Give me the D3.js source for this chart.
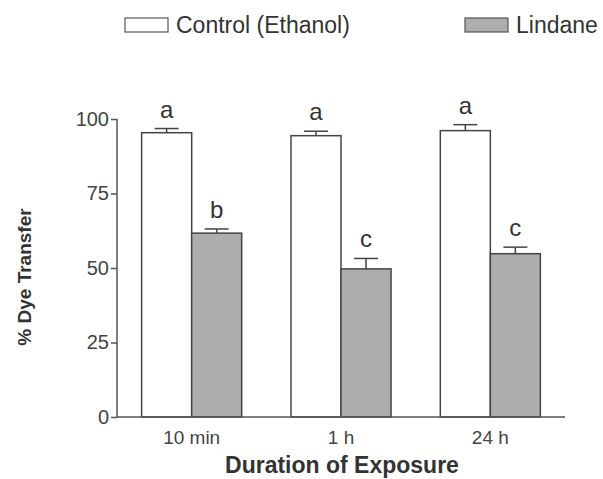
<!DOCTYPE html>
<html>
<head>
<meta charset="utf-8">
<script src="https://cdn.jsdelivr.net/npm/d3@7"></script>
<style>
  body { margin: 0; background: #fff; }
  text { font-family: "Liberation Sans", Arial, sans-serif; fill: #333; }
</style>
</head>
<body>
<svg width="603" height="479"></svg>
<script>
// chart values
var durations = ["10 min", "1 h", "24 h"];
var seriesNames = ["Control (Ethanol)", "Lindane"];
var controlMeans = [95.4, 94.4, 96.1];
var controlErr = [1.4, 1.5, 2.0];
var lindaneMeans = [61.7, 49.7, 54.8];
var lindaneErr = [1.4, 3.5, 2.2];
var controlLetters = ["a", "a", "a"];
var lindaneLetters = ["b", "c", "c"];
var yTicks = [0, 25, 50, 75, 100];

var svg = d3.select("svg");
var plotLeft = 117, plotRight = 565, plotTop = 119, plotBottom = 417;

var x = d3.scaleBand().domain(durations).range([plotLeft, plotRight])
    .paddingInner(0.33).paddingOuter(0.165);
var sub = d3.scaleBand().domain(seriesNames).range([0, x.bandwidth()]);
var y = d3.scaleLinear().domain([0, 100]).range([plotBottom, plotTop]);

var fills = { "Control (Ethanol)": "#fff", "Lindane": "#adadad" };

// build rows for each bar
var rows = [];
durations.forEach(function(d, i) {
    rows.push({ dur: d, series: seriesNames[0], v: controlMeans[i], e: controlErr[i], letter: controlLetters[i] });
    rows.push({ dur: d, series: seriesNames[1], v: lindaneMeans[i], e: lindaneErr[i], letter: lindaneLetters[i] });
});

// error bars (drawn first, bar covers lower half)
var eb = svg.append("g").attr("stroke", "#444").attr("stroke-width", 1.5);
rows.forEach(function(r) {
    var cx = x(r.dur) + sub(r.series) + sub.bandwidth() / 2;
    eb.append("line").attr("x1", cx).attr("x2", cx).attr("y1", y(r.v)).attr("y2", y(r.v + r.e));
    eb.append("line").attr("x1", cx - 12).attr("x2", cx + 12).attr("y1", y(r.v + r.e)).attr("y2", y(r.v + r.e));
});

svg.append("g").selectAll("rect").data(rows).enter().append("rect")
    .attr("x", function(d) { return x(d.dur) + sub(d.series); })
    .attr("y", function(d) { return y(d.v); })
    .attr("width", sub.bandwidth())
    .attr("height", function(d) { return y(0) - y(d.v); })
    .attr("fill", function(d) { return fills[d.series]; })
    .attr("stroke", "#444")
    .attr("stroke-width", 1.5);

// significance letters
svg.append("g").selectAll("text").data(rows).enter().append("text")
    .attr("x", function(d) { return x(d.dur) + sub(d.series) + sub.bandwidth() / 2; })
    .attr("y", function(d) { return y(d.v + d.e) - 11; })
    .attr("text-anchor", "middle")
    .style("font-size", "24px")
    .text(function(d) { return d.letter; });

// y axis
var yAxis = svg.append("g").attr("transform", "translate(" + plotLeft + ",0)")
    .call(d3.axisLeft(y).tickValues(yTicks).tickSize(6).tickPadding(2));
yAxis.attr("font-size", null).attr("font-family", null);
yAxis.select(".domain").attr("stroke", "#555").attr("stroke-width", 1.5).attr("d", "M0," + y(100) + "V" + y(0));
yAxis.selectAll(".tick line").attr("stroke", "#555").attr("stroke-width", 1.5);
yAxis.selectAll(".tick text").style("font-size", "20px").style("fill", "#444");

// x axis
var xAxis = svg.append("g").attr("transform", "translate(0," + plotBottom + ")")
    .call(d3.axisBottom(x).tickSize(0).tickPadding(14));
xAxis.attr("font-size", null).attr("font-family", null);
xAxis.select(".domain").attr("stroke", "#555").attr("stroke-width", 1.5).attr("d", "M" + plotLeft + ",0H" + plotRight);
xAxis.selectAll(".tick text").style("font-size", "19px").style("fill", "#444");

// axis titles
svg.append("text").attr("x", 342).attr("y", 473)
    .attr("text-anchor", "middle").style("font-size", "23px").style("font-weight", "bold")
    .text("Duration of Exposure");
svg.append("text").attr("transform", "translate(31,277) rotate(-90)")
    .attr("text-anchor", "middle").style("font-size", "19px").style("font-weight", "bold")
    .text("% Dye Transfer");

// legend
var legendX = [125, 465];
var lg = svg.append("g").selectAll("g").data(seriesNames).enter().append("g")
    .attr("transform", function(d, i) { return "translate(" + legendX[i] + ",18)"; });
lg.append("rect").attr("width", 43).attr("height", 14)
    .attr("fill", function(d) { return fills[d]; })
    .attr("stroke", "#555").attr("stroke-width", 1.2);
lg.append("text").attr("x", 51).attr("y", 15)
    .style("font-size", "23px").text(function(d) { return d; });
</script>
</body>
</html>
